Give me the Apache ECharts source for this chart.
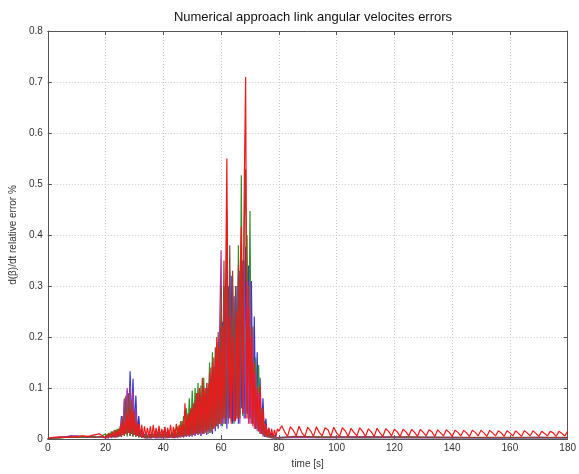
<!DOCTYPE html>
<html>
<head>
<meta charset="utf-8">
<script src="https://cdn.jsdelivr.net/npm/echarts@6/dist/echarts.min.js"></script>
<style>html,body{margin:0;padding:0;background:#fff}#c{width:579px;height:474px}</style>
</head>
<body>
<div id="c"></div>
<script>
// ---- data ----
var titleText = 'Numerical approach link angular velocites errors';
var xName = 'time [s]';
var yName = 'd(\u03b2)/dt relative error %';
var xTicks = [0,20,40,60,80,100,120,140,160,180];
var yTicks = [0,0.1,0.2,0.3,0.4,0.5,0.6,0.7,0.8];

var tLow = [0,2,4,6,8,10,12,14,16,18];
var tDense = [
 20,20.5,21,21.5,22,22.5,23,23.5,24,24.5,
 25,25.5,26,26.5,27,27.5,28,28.5,29,29.5,
 30,30.5,31,31.5,32,32.5,33,33.5,34,34.5,
 35,35.5,36,36.5,37,37.5,38,38.5,39,39.5,
 40,40.5,41,41.5,42,42.5,43,43.5,44,44.5,
 45,45.5,46,46.5,47,47.5,48,48.5,49,49.5,
 50,50.5,51,51.5,52,52.5,53,53.5,54,54.5,
 55,55.5,56,56.5,57,57.5,58,58.5,59,59.5,
 60,60.5,61,61.5,62,62.5,63,63.5,64,64.5,
 65,65.5,66,66.5,67,67.5,68,68.5,69,69.5,
 70,70.5,71,71.5,72,72.5,73,73.5,74,74.5,
 75,75.5,76,76.5,77,77.5,78,78.5,79,79.5,
 80];
var tTailSparse = [85,95,110,125,140,155,170,180];
var tTailRed = [
 81,82,83,84,85,86,87,88,89,90,
 91,92,93,94,95,96,97,98,99,100,
 101,102,103,104,105,106,107,108,109,110,
 111,112,113,114,115,116,117,118,119,120,
 121,122,123,124,125,126,127,128,129,130,
 131,132,133,134,135,136,137,138,139,140,
 141,142,143,144,145,146,147,148,149,150,
 151,152,153,154,155,156,157,158,159,160,
 161,162,163,164,165,166,167,168,169,170,
 171,172,173,174,175,176,177,178,179,180];

var blueLow = [.001,.002,.003,.004,.006,.005,.004,.003,.005,.004];
var blueDense = [
 .003,.008,.002,.010,.003,.012,.004,.015,.005,.020,
 .006,.045,.010,.075,.015,.095,.020,.133,.030,.118,
 .020,.085,.010,.045,.006,.020,.004,.010,.003,.008,
 .003,.010,.002,.008,.003,.012,.002,.015,.003,.010,
 .004,.022,.003,.015,.002,.010,.003,.012,.002,.009,
 .003,.015,.004,.020,.003,.025,.005,.030,.004,.035,
 .005,.040,.006,.055,.008,.070,.006,.085,.010,.090,
 .008,.100,.012,.120,.010,.140,.015,.160,.020,.190,
 .025,.230,.030,.250,.020,.300,.040,.320,.030,.280,
 .050,.300,.030,.330,.060,.350,.040,.377,.050,.340,
 .040,.310,.030,.240,.020,.170,.015,.120,.010,.080,
 .006,.040,.004,.022,.003,.012,.002,.008,.002,.005,
 .003];
var blueTail = [.004,.003,.004,.003,.003,.002,.003,.002];

var greenLow = [.001,.002,.002,.003,.003,.004,.003,.004,.005,.004];
var greenDense = [
 .010,.003,.012,.004,.015,.003,.018,.005,.020,.004,
 .025,.004,.030,.006,.035,.005,.040,.006,.030,.005,
 .030,.004,.028,.003,.015,.003,.012,.002,.010,.003,
 .010,.002,.012,.003,.010,.002,.014,.003,.012,.002,
 .015,.003,.012,.002,.018,.003,.014,.002,.020,.003,
 .025,.004,.035,.005,.045,.006,.060,.008,.080,.010,
 .095,.012,.100,.015,.110,.010,.105,.012,.120,.015,
 .100,.010,.150,.015,.170,.020,.130,.025,.190,.030,
 .200,.025,.300,.030,.250,.040,.270,.035,.280,.030,
 .260,.040,.380,.050,.517,.045,.300,.060,.400,.050,
 .447,.040,.220,.030,.160,.020,.145,.010,.060,.008,
 .035,.004,.018,.003,.010,.002,.006,.002,.004,.002,
 .003];
var greenTail = [.003,.003,.002,.003,.002,.002,.002,.002];

var purpleLow = [.001,.002,.003,.004,.005,.006,.005,.004,.003,.004];
var purpleDense = [
 .002,.004,.002,.006,.002,.008,.003,.010,.003,.015,
 .005,.040,.008,.080,.010,.100,.012,.105,.010,.095,
 .010,.060,.006,.030,.004,.012,.003,.006,.002,.004,
 .002,.005,.002,.006,.002,.004,.002,.005,.002,.005,
 .002,.005,.002,.006,.002,.007,.002,.008,.002,.007,
 .002,.010,.003,.012,.003,.015,.004,.018,.004,.025,
 .005,.030,.006,.040,.008,.050,.006,.060,.010,.070,
 .010,.080,.012,.100,.015,.120,.020,.150,.025,.220,
 .370,.030,.300,.040,.280,.030,.330,.040,.300,.035,
 .280,.040,.320,.030,.300,.050,.350,.040,.310,.030,
 .310,.030,.220,.020,.130,.015,.090,.010,.050,.005,
 .030,.004,.015,.003,.008,.002,.005,.002,.004,.002,
 .003];
var purpleTail = [.003,.002,.003,.002,.002,.002,.002,.002];

var brownLow = [.001,.002,.002,.003,.004,.003,.005,.004,.003,.005];
var brownDense = [
 .003,.004,.006,.003,.008,.004,.010,.003,.012,.004,
 .020,.004,.045,.006,.085,.008,.090,.006,.075,.005,
 .050,.004,.030,.003,.015,.002,.008,.003,.006,.002,
 .010,.002,.012,.003,.015,.002,.010,.003,.011,.002,
 .015,.003,.012,.002,.010,.003,.012,.002,.013,.003,
 .018,.003,.022,.004,.030,.005,.040,.006,.050,.006,
 .060,.008,.075,.010,.090,.012,.085,.010,.100,.012,
 .110,.015,.130,.012,.150,.020,.180,.025,.210,.030,
 .300,.040,.350,.030,.450,.050,.380,.040,.330,.035,
 .300,.045,.340,.040,.380,.050,.420,.529,.050,.300,
 .040,.220,.030,.140,.020,.090,.015,.050,.010,.030,
 .004,.016,.003,.010,.002,.006,.002,.004,.002,.003,
 .002];
var brownTail = [.005,.004,.004,.004,.003,.003,.003,.003];

var redLow = [.002,.003,.004,.003,.005,.004,.006,.005,.008,.010];
var redDense = [
 .002,.008,.003,.012,.004,.015,.004,.018,.005,.020,
 .006,.030,.008,.035,.010,.050,.012,.060,.010,.055,
 .008,.035,.006,.030,.005,.028,.004,.025,.004,.022,
 .004,.025,.003,.028,.004,.022,.003,.026,.004,.020,
 .004,.024,.003,.022,.004,.028,.003,.024,.004,.030,
 .005,.028,.006,.035,.005,.070,.008,.050,.008,.060,
 .010,.070,.012,.090,.010,.100,.015,.120,.012,.100,
 .015,.110,.020,.140,.020,.160,.025,.200,.030,.180,
 .030,.220,.040,.260,.550,.040,.240,.030,.200,.040,
 .035,.250,.040,.300,.416,.050,.484,.710,.040,.260,
 .030,.200,.025,.150,.020,.100,.015,.105,.010,.060,
 .008,.030,.006,.022,.005,.020,.004,.018,.004,.020,
 .015];
var redTail = [
 .026,.014,.005,.024,.017,.006,.025,.012,.005,.023,
 .016,.005,.024,.013,.006,.022,.018,.005,.023,.012,
 .005,.022,.016,.005,.021,.013,.006,.022,.015,.005,
 .020,.014,.005,.021,.012,.005,.020,.015,.006,.019,
 .014,.005,.019,.014,.006,.019,.013,.005,.019,.013,
 .006,.018,.014,.005,.018,.012,.006,.018,.013,.005,
 .017,.013,.006,.017,.012,.005,.017,.013,.006,.017,
 .012,.005,.017,.012,.006,.016,.012,.005,.016,.012,
 .006,.016,.011,.005,.016,.012,.006,.016,.011,.005,
 .015,.011,.006,.015,.012,.005,.015,.011,.006,.015];

// ---- build ----
function pairs(ts, vs){ var out=[]; for(var i=0;i<ts.length;i++){ out.push([ts[i], vs[i]]); } return out; }
function build(low, dense, tailT, tail){
  return pairs(tLow, low).concat(pairs(tDense, dense)).concat(pairs(tailT, tail));
}
var seriesDefs = [
  {name:'blue', color:'#3535d0', data: build(blueLow, blueDense, tTailSparse, blueTail)},
  {name:'green', color:'#2a922a', data: build(greenLow, greenDense, tTailSparse, greenTail)},
  {name:'purple', color:'#a63aa8', data: build(purpleLow, purpleDense, tTailSparse, purpleTail)},
  {name:'brown', color:'#8e4535', data: build(brownLow, brownDense, tTailSparse, brownTail)},
  {name:'red', color:'#f01818', data: build(redLow, redDense, tTailRed, redTail)}
];

var chart = echarts.init(document.getElementById('c'), null, {renderer:'canvas'});
var axisCol = '#555';
var gridLine = {show:true, lineStyle:{color:'#c8c8c8', type:[1,2], width:1}};
var option = {
  animation:false,
  backgroundColor:'#fff',
  title:{text:titleText, left:308, textAlign:'center', top:6,
    textStyle:{fontFamily:'Liberation Sans, Arial, sans-serif', fontSize:13, fontWeight:'normal', color:'#111'}},
  grid:{left:47, right:10, top:31, bottom:33},
  xAxis:[{
    type:'value', min:0, max:180, interval:20,
    name:xName, nameLocation:'middle', nameGap:20,
    nameTextStyle:{fontFamily:'Liberation Sans, Arial, sans-serif', fontSize:10, color:'#333'},
    axisLine:{show:true, onZero:false, lineStyle:{color:axisCol}},
    axisTick:{show:true, inside:true, length:4, lineStyle:{color:axisCol}},
    axisLabel:{fontFamily:'Liberation Sans, Arial, sans-serif', fontSize:10, color:'#333', margin:4,
      formatter:function(v){ return xTicks.indexOf(v)>=0 ? String(v) : ''; }},
    splitLine:gridLine
  },{
    type:'value', min:0, max:180, interval:20, position:'top',
    axisLine:{show:true, onZero:false, lineStyle:{color:axisCol}},
    axisTick:{show:true, inside:true, length:4, lineStyle:{color:axisCol}},
    axisLabel:{show:false}, splitLine:{show:false}
  }],
  yAxis:[{
    type:'value', min:0, max:0.8, interval:0.1,
    name:yName, nameLocation:'middle', nameGap:24, nameRotate:90,
    nameTextStyle:{fontFamily:'Liberation Sans, Arial, sans-serif', fontSize:10, color:'#333'},
    axisLine:{show:true, onZero:false, lineStyle:{color:axisCol}},
    axisTick:{show:true, inside:true, length:4, lineStyle:{color:axisCol}},
    axisLabel:{fontFamily:'Liberation Sans, Arial, sans-serif', fontSize:10, color:'#333', margin:5,
      formatter:function(v){ var r=Math.round(v*10)/10; return yTicks.indexOf(r)>=0 ? String(r) : ''; }},
    splitLine:gridLine
  },{
    type:'value', min:0, max:0.8, interval:0.1, position:'right',
    axisLine:{show:true, onZero:false, lineStyle:{color:axisCol}},
    axisTick:{show:true, inside:true, length:4, lineStyle:{color:axisCol}},
    axisLabel:{show:false}, splitLine:{show:false}
  }],
  series: seriesDefs.map(function(s){
    return {name:s.name, type:'line', data:s.data, xAxisIndex:0, yAxisIndex:0,
      showSymbol:false, symbol:'none', lineStyle:{color:s.color, width:1.2},
      itemStyle:{color:s.color}, clip:true};
  })
};
chart.setOption(option);
</script>
</body>
</html>
